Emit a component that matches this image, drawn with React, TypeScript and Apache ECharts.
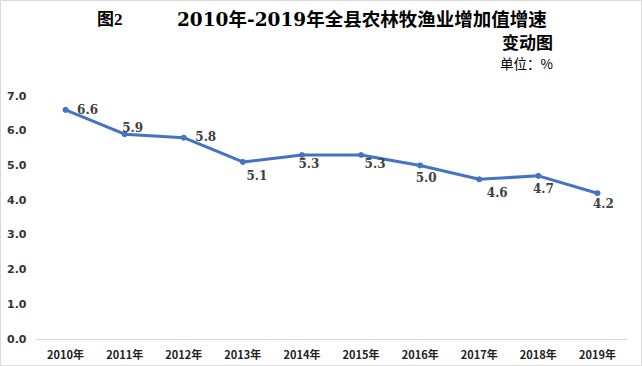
import React, { useEffect, useRef } from "react";
import * as echarts from "echarts";

const years = ["2010年", "2011年", "2012年", "2013年", "2014年", "2015年", "2016年", "2017年", "2018年", "2019年"];
const growth = [6.6, 5.9, 5.8, 5.1, 5.3, 5.3, 5.0, 4.6, 4.7, 4.2];
const labelOffsets: [number, number][] = [
  [22, 0], [8, -6], [22, -1], [14, 14], [7, 9], [14, 9], [6, 13], [18, 14], [5, 13], [6, 11],
];
const titleMain = "2010年-2019年全县农林牧渔业增加值增速";
const titleFig = "图2";
const titleSecond = "变动图";
const unitText = "单位：%";

export default function App() {
  const ref = useRef<HTMLDivElement>(null);
  useEffect(() => {
    document.body.style.margin = "0";
    const chart = echarts.init(ref.current!, null, { renderer: "svg" });
    chart.setOption({
      animation: false,
      backgroundColor: "#ffffff",
      grid: { left: 36, right: 15, top: 96, bottom: 27, containLabel: false },
      xAxis: {
        type: "category",
        data: years,
        boundaryGap: true,
        axisLine: { show: true, lineStyle: { color: "#d9d9d9", width: 1 } },
        axisTick: { show: false },
        axisLabel: {
          color: "#222",
          fontSize: 11,
          fontWeight: "bold",
          fontFamily: "Noto Sans CJK SC",
          margin: 9,
        },
      },
      yAxis: {
        type: "value",
        min: 0,
        max: 7,
        interval: 1,
        axisLine: { show: false },
        axisTick: { show: false },
        splitLine: { show: false },
        axisLabel: {
          formatter: (v: number) => v.toFixed(1),
          color: "#333",
          fontSize: 11,
          fontWeight: "bold",
          fontFamily: "DejaVu Sans",
          align: "left",
          margin: 29,
        },
      },
      series: [
        {
          type: "line",
          data: growth.map((v, i) => ({
            value: v,
            label: { offset: labelOffsets[i] },
          })),
          symbol: "circle",
          symbolSize: 6,
          lineStyle: { color: "#4472C4", width: 3 },
          itemStyle: { color: "#4472C4" },
          label: {
            show: true,
            position: "inside",
            formatter: (p: any) => Number(p.value).toFixed(1),
            color: "#404040",
            fontSize: 12,
            fontWeight: "bold",
            fontFamily: "DejaVu Serif",
          },
        },
      ],
      graphic: [
        {
          type: "rect",
          shape: { x: 0.5, y: 0.5, width: 641, height: 365 },
          style: { fill: "none", stroke: "#d9d9d9", lineWidth: 1 },
          silent: true,
        },
        {
          type: "text",
          x: 97,
          y: 19.5,
          style: {
            text: titleFig,
            fontSize: 17,
            fontWeight: "bold",
            fontFamily: "Liberation Serif, Noto Sans CJK SC",
            fill: "#000",
            verticalAlign: "middle",
            lineHeight: 17,
          },
        },
        {
          type: "text",
          x: 177,
          y: 19.5,
          style: {
            text: titleMain,
            fontSize: 18.5,
            fontWeight: "bold",
            fontFamily: "DejaVu Serif, Noto Sans CJK SC",
            fill: "#000",
            verticalAlign: "middle",
            lineHeight: 18,
          },
        },
        {
          type: "text",
          x: 553,
          y: 41,
          style: {
            text: titleSecond,
            fontSize: 17,
            fontWeight: "bold",
            fontFamily: "Noto Sans CJK SC",
            fill: "#000",
            align: "right",
            verticalAlign: "middle",
            lineHeight: 17,
          },
        },
        {
          type: "text",
          x: 553,
          y: 62.5,
          style: {
            text: unitText,
            fontSize: 13.5,
            fontFamily: "Noto Sans CJK SC",
            fill: "#000",
            align: "right",
            verticalAlign: "middle",
            lineHeight: 14,
          },
        },
      ],
    });
    return () => chart.dispose();
  }, []);
  return <div ref={ref} style={{ width: 642, height: 366 }} />;
}
